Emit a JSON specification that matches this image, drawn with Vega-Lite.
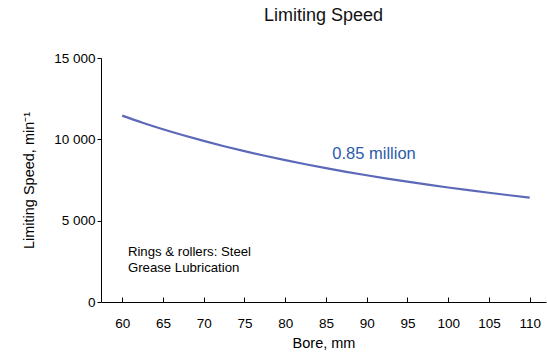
{
  "$schema": "https://vega.github.io/schema/vega-lite/v6.json",
  "width": 445,
  "height": 244,
  "autosize": {"type": "none"},
  "padding": {"left": 101, "top": 58, "right": 1, "bottom": 52},
  "background": "white",
  "config": {
    "font": "Liberation Sans",
    "view": {"stroke": null},
    "axis": {"grid": false, "domainColor": "black", "tickColor": "black", "labelColor": "black", "titleColor": "black", "labelFont": "Liberation Sans", "titleFont": "Liberation Sans", "labelFontSize": 13.5, "titleFontSize": 14.5, "titleFontWeight": "normal"}
  },
  "title": {"text": "Limiting Speed", "fontSize": 18, "fontWeight": "normal", "font": "Liberation Sans", "color": "#111111", "anchor": "middle", "offset": 26, "dx": 0},
  "layer": [
    {
      "data": {"values": [
        {"bore": 60, "speed": 11456},
        {"bore": 62.5, "speed": 11023},
        {"bore": 65, "speed": 10622},
        {"bore": 67.5, "speed": 10250},
        {"bore": 70, "speed": 9902},
        {"bore": 72.5, "speed": 9577},
        {"bore": 75, "speed": 9273},
        {"bore": 77.5, "speed": 8988},
        {"bore": 80, "speed": 8720},
        {"bore": 82.5, "speed": 8467},
        {"bore": 85, "speed": 8228},
        {"bore": 87.5, "speed": 8003},
        {"bore": 90, "speed": 7790},
        {"bore": 92.5, "speed": 7587},
        {"bore": 95, "speed": 7395},
        {"bore": 97.5, "speed": 7213},
        {"bore": 100, "speed": 7039},
        {"bore": 102.5, "speed": 6873},
        {"bore": 105, "speed": 6715},
        {"bore": 107.5, "speed": 6564},
        {"bore": 110, "speed": 6420}
      ]},
      "mark": {"type": "line", "color": "#5c69b9", "strokeWidth": 2.2, "interpolate": "monotone"},
      "encoding": {
        "x": {"field": "bore", "type": "quantitative", "scale": {"domain": [57.4, 112], "nice": false, "zero": false},
          "axis": {"title": "Bore, mm", "values": [60,65,70,75,80,85,90,95,100,105,110], "tickSize": -5, "labelPadding": 19, "titlePadding": 7, "labelFlush": false, "labelOverlap": false}},
        "y": {"field": "speed", "type": "quantitative", "scale": {"domain": [0, 15000], "nice": false},
          "axis": {"title": "Limiting Speed, min⁻¹", "values": [0, 5000, 10000, 15000], "tickSize": 4, "labelPadding": 2, "titlePadding": 17, "labelExpr": "replace(format(datum.value, ','), ',', ' ')"}}
      }
    },
    {
      "data": {"values": [
        {"bore": 90.9, "speed": 9098, "label": "0.85 million"}
      ]},
      "mark": {"type": "text", "color": "#2b5caa", "fontSize": 16.5, "align": "center", "baseline": "middle", "font": "Liberation Sans"},
      "encoding": {
        "x": {"field": "bore", "type": "quantitative"},
        "y": {"field": "speed", "type": "quantitative"},
        "text": {"field": "label"}
      }
    },
    {
      "data": {"values": [
        {"bore": 60.7, "speed": 3074, "label": "Rings & rollers: Steel"},
        {"bore": 60.7, "speed": 2090, "label": "Grease Lubrication"}
      ]},
      "mark": {"type": "text", "color": "black", "fontSize": 13.2, "align": "left", "baseline": "middle", "font": "Liberation Sans"},
      "encoding": {
        "x": {"field": "bore", "type": "quantitative"},
        "y": {"field": "speed", "type": "quantitative"},
        "text": {"field": "label"}
      }
    }
  ]
}
